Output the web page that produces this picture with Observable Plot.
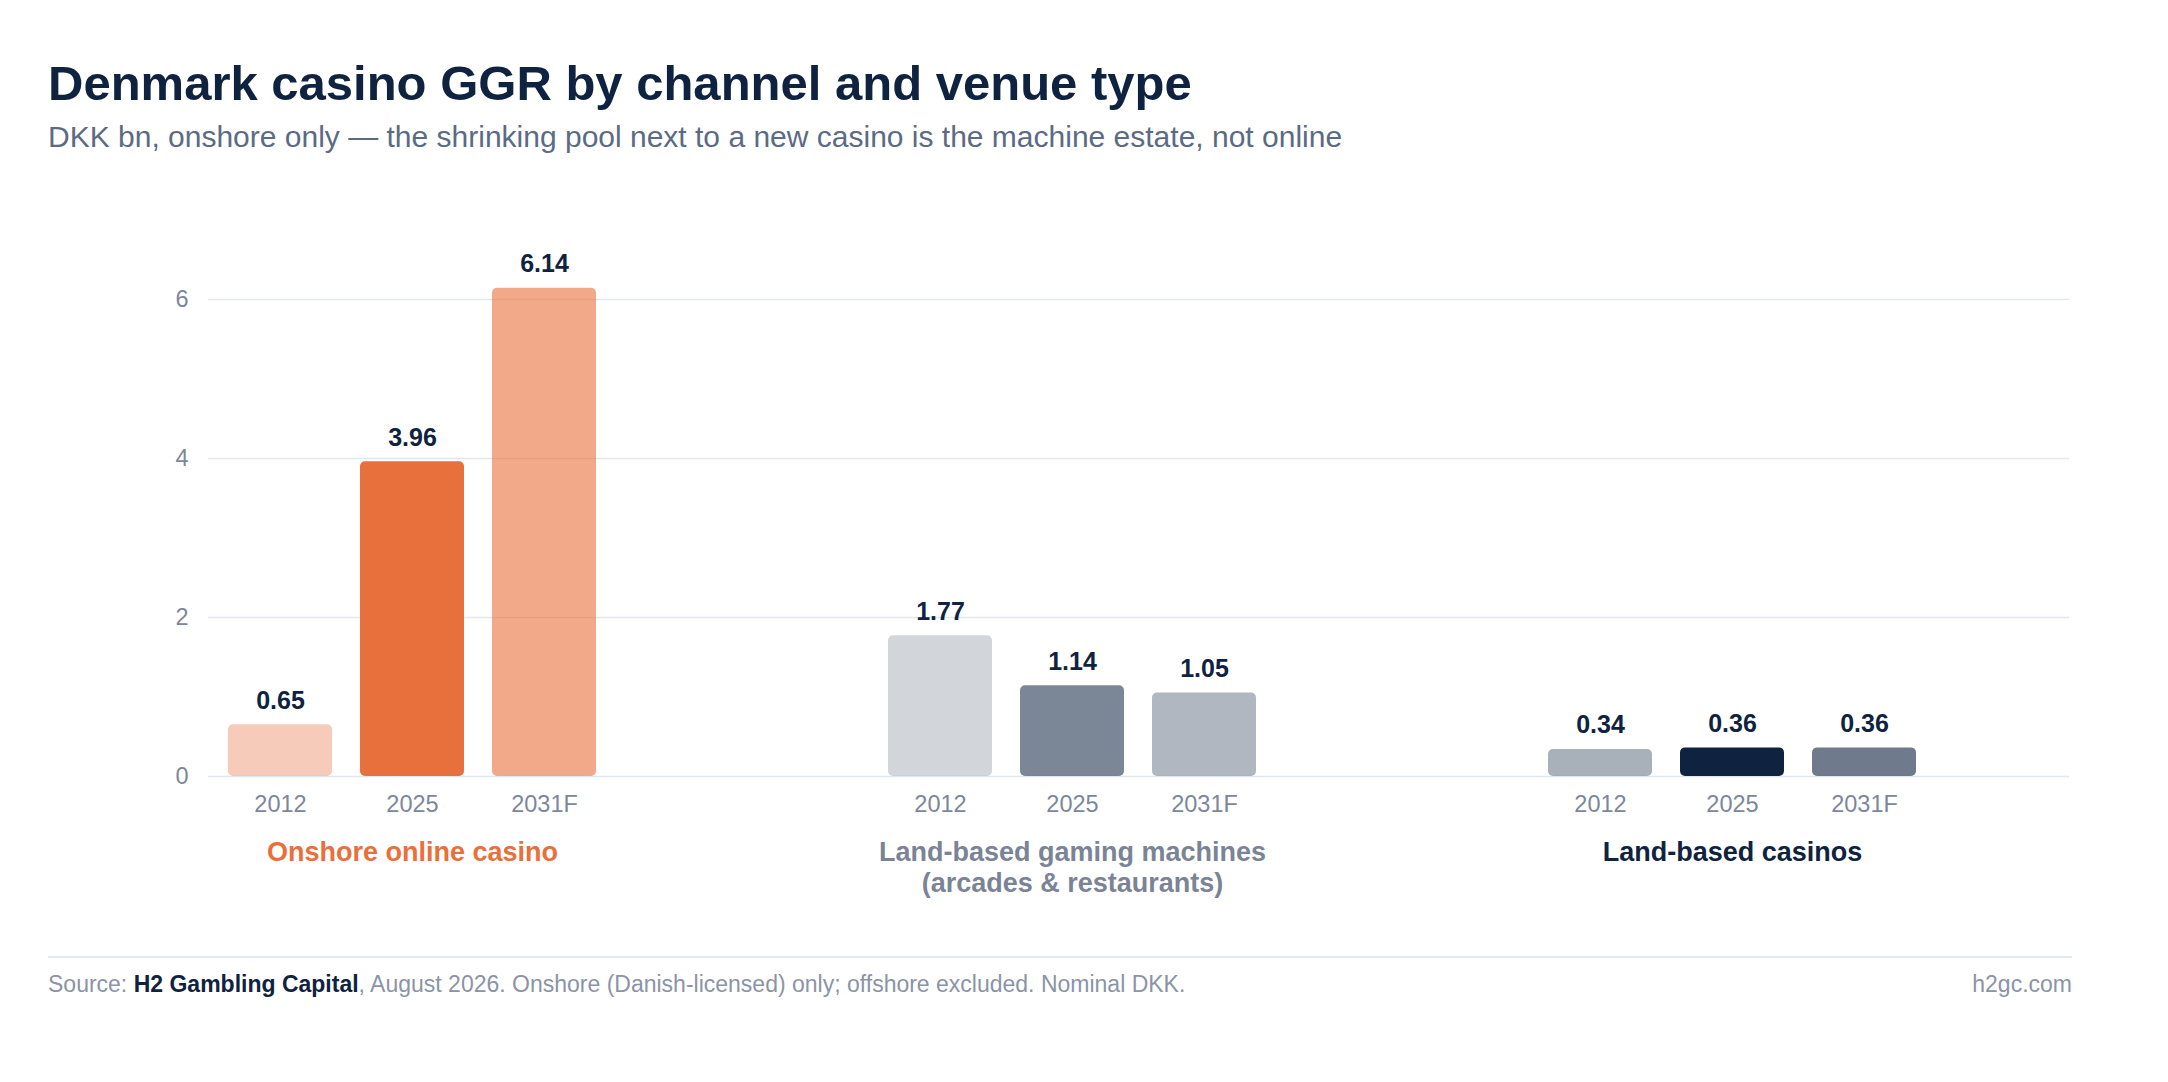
<!DOCTYPE html>
<html>
<head>
<meta charset="utf-8">
<script src="https://cdn.jsdelivr.net/npm/d3@7"></script>
<script src="https://cdn.jsdelivr.net/npm/@observablehq/plot@0.6"></script>
<style>
  html, body { margin: 0; padding: 0; background: #ffffff; }
  body { width: 2168px; height: 1082px; position: relative; overflow: hidden; font-family: "Liberation Sans", Arial, Helvetica, sans-serif; }
  #title { position: absolute; left: 48px; top: 55px; font-size: 49px; line-height: 56px; font-weight: 700; color: #0f2340; white-space: nowrap; }
  #subtitle { position: absolute; left: 48px; top: 119.6px; font-size: 30px; line-height: 34px; color: #5b6b84; white-space: nowrap; }
  #chart { position: absolute; left: 0; top: 160px; }
  #rule { position: absolute; left: 48px; top: 956px; width: 2024px; height: 2px; background: #e2e8f0; }
  #footer { position: absolute; left: 48px; top: 971px; width: 2024px; font-size: 23px; line-height: 26px; color: #8a94a6; white-space: nowrap; }
  #footer b { color: #0f2340; font-weight: 700; }
  #footer .right { position: absolute; right: 0; top: 0; }
</style>
</head>
<body>
<div id="title">Denmark casino GGR by channel and venue type</div>
<div id="subtitle">DKK bn, onshore only — the shrinking pool next to a new casino is the machine estate, not online</div>
<div id="chart"></div>
<div id="rule"></div>
<div id="footer">Source: <b>H2 Gambling Capital</b>, August 2026. Onshore (Danish-licensed) only; offshore excluded. Nominal DKK.<span class="right">h2gc.com</span></div>
<script>
// ---- data ----
const groups = ["Onshore online casino", "Land-based gaming machines\n(arcades & restaurants)", "Land-based casinos"];
const years = ["2012", "2025", "2031F"];
const onlineCasino = [0.65, 3.96, 6.14];
const gamingMachines = [1.77, 1.14, 1.05];
const landCasinos = [0.34, 0.36, 0.36];
const yTicks = [0, 2, 4, 6];

// ---- styles (kept apart from data) ----
const orange = "232,112,60";
const navy = "15,35,64";
const barColors = [
  [`rgba(${orange},0.36)`, `rgb(${orange})`, `rgba(${orange},0.6)`],
  [`rgba(${navy},0.19)`, `rgba(${navy},0.55)`, `rgba(${navy},0.33)`],
  [`rgba(${navy},0.36)`, `rgb(${navy})`, `rgba(${navy},0.6)`]
];
const groupColors = ["#e8703c", "#7a8496", "#0f2340"];

// ---- build table ----
const series = [onlineCasino, gamingMachines, landCasinos];
const data = [];
series.forEach((vals, g) => vals.forEach((v, i) => data.push({key: `g${g}-${years[i]}`, year: years[i], group: g, value: v})));
const realKeys = data.map(d => d.key);
// x slots: three bars per group, two empty slots between groups, one trailing empty slot
const slots = [];
groups.forEach((_, g) => {
  years.forEach(y => slots.push(`g${g}-${y}`));
  if (g < groups.length - 1) { slots.push(`gap${g}a`, `gap${g}b`); }
});
slots.push("gapEnd");
const colorDomain = realKeys;
const colorRange = data.map(d => barColors[d.group][years.indexOf(d.year)]);
const labelLines = [];
groups.forEach((label, g) => label.split("\n").forEach((line, i) => labelLines.push({key: `g${g}-${years[1]}`, line, i, group: g})));
const yearOf = Object.fromEntries(data.map(d => [d.key, d.year]));

const plot = Plot.plot({
  width: 2168,
  height: 780,
  marginLeft: 208,
  marginRight: 99,
  marginTop: 99.25,
  marginBottom: 164,
  style: {fontFamily: '"Liberation Sans", Arial, Helvetica, sans-serif', background: "transparent", color: "#7c879b", overflow: "visible"},
  x: {type: "band", domain: slots, paddingInner: 0.212, paddingOuter: 0.155, align: 0.5, label: null},
  y: {domain: [0, 6.5], label: null},
  color: {type: "ordinal", domain: colorDomain, range: colorRange},
  marks: [
    Plot.ruleY(yTicks, {stroke: "#e2e6ee", strokeWidth: 1.6}),
    Plot.barY(data, {x: "key", y: "value", fill: "key", rx: 5}),
    Plot.text(data, {x: "key", y: "value", text: d => d.value.toFixed(2), dy: -16, lineAnchor: "bottom", fontSize: 25, fontWeight: 700, fill: "#0f2340"}),
    Plot.axisY({ticks: yTicks, tickFormat: d => String(d), tickSize: 0, tickPadding: 20, fontSize: 23.5, fill: "#7c879b", label: null}),
    Plot.axisX({ticks: realKeys, tickFormat: k => yearOf[k], tickSize: 0, tickPadding: 19.3, fontSize: 23.5, fill: "#7c879b", label: null}),
    Plot.text(labelLines.filter(d => d.i === 0), {x: "key", frameAnchor: "bottom", text: "line", dy: 84, lineAnchor: "bottom", fontSize: 27, fontWeight: 700, fill: d => groupColors[d.group]}),
    Plot.text(labelLines.filter(d => d.i === 1), {x: "key", frameAnchor: "bottom", text: "line", dy: 115, lineAnchor: "bottom", fontSize: 27, fontWeight: 700, fill: d => groupColors[d.group]})
  ]
});
document.getElementById("chart").appendChild(plot);
</script>
</body>
</html>
